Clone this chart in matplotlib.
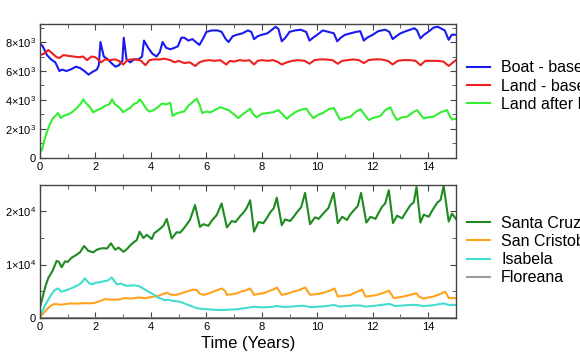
import numpy as np
import matplotlib
matplotlib.use("Agg")
import matplotlib.pyplot as plt
from matplotlib.ticker import MultipleLocator, FuncFormatter

plt.rcParams['font.family'] = ['Liberation Sans', 'DejaVu Sans']
plt.rcParams['mathtext.fontset'] = 'custom'
plt.rcParams['mathtext.rm'] = 'Liberation Sans'
plt.rcParams['mathtext.default'] = 'regular'

# ---- top panel: total population by strategy (x1000) ----
boat_t = [0.0, 0.1, 0.25, 0.4, 0.55, 0.7, 0.8, 0.95, 1.1, 1.3, 1.45, 1.6, 1.75, 1.9, 2.05, 2.12, 2.18, 2.3,
          2.45, 2.6, 2.72, 2.85, 2.97, 3.02, 3.12, 3.25, 3.4, 3.55, 3.68, 3.75, 3.9, 4.05, 4.2, 4.32, 4.42,
          4.55, 4.7, 4.85, 4.97, 5.1, 5.2, 5.35, 5.5, 5.62, 5.75, 5.9, 6.0, 6.2, 6.4, 6.55, 6.7, 6.8, 6.95,
          7.1, 7.3, 7.5, 7.62, 7.72, 7.85, 8.0, 8.2, 8.4, 8.5, 8.6, 8.72, 8.85, 9.0, 9.2, 9.4, 9.6, 9.72,
          9.85, 10.0, 10.2, 10.4, 10.6, 10.72, 10.85, 11.0, 11.2, 11.4, 11.55, 11.68, 11.8, 12.0, 12.2,
          12.45, 12.6, 12.72, 12.85, 13.0, 13.2, 13.5, 13.6, 13.72, 13.85, 14.0, 14.2, 14.35, 14.5, 14.6,
          14.74, 14.85, 15.0]
boat_v = [7.9, 7.7, 7.1, 6.8, 6.6, 6.0, 6.1, 6.0, 6.1, 6.3, 6.2, 6.0, 5.75, 5.95, 6.1, 6.4, 8.0, 7.0,
          6.8, 6.5, 6.3, 6.4, 6.7, 8.3, 6.8, 6.6, 6.8, 6.8, 7.0, 8.1, 7.6, 7.2, 7.0, 7.3, 8.0,
          7.6, 7.5, 7.6, 7.7, 8.3, 8.3, 8.1, 8.2, 8.0, 7.8, 8.3, 8.7, 8.8, 8.8, 8.7, 8.2, 8.0, 8.4,
          8.5, 8.6, 8.8, 8.7, 8.2, 8.4, 8.5, 8.6, 8.9, 9.05, 8.9, 8.05, 8.3, 8.7, 8.8, 8.85, 8.7, 8.1,
          8.3, 8.5, 8.8, 8.7, 8.6, 8.05, 8.3, 8.5, 8.6, 8.7, 8.75, 8.1, 8.3, 8.5, 8.75,
          8.85, 8.7, 8.2, 8.4, 8.6, 8.75, 8.95, 8.8, 8.25, 8.5, 8.7, 9.0, 9.05, 8.9, 8.8,
          8.15, 8.5, 8.5]

land_t = [0.0, 0.15, 0.3, 0.45, 0.6, 0.7, 0.85, 1.0, 1.2, 1.4, 1.55, 1.7, 1.85, 2.0, 2.2, 2.35, 2.5, 2.7,
          2.85, 3.0, 3.15, 3.3, 3.5, 3.65, 3.8, 3.95, 4.1, 4.3, 4.5, 4.7, 4.85, 5.0, 5.2, 5.4, 5.6, 5.75,
          5.9, 6.1, 6.3, 6.5, 6.72, 6.85, 7.0, 7.2, 7.4, 7.55, 7.72, 7.85, 8.0, 8.2, 8.4, 8.55, 8.72, 8.9,
          9.1, 9.3, 9.55, 9.72, 9.9, 10.1, 10.3, 10.55, 10.74, 10.9, 11.1, 11.3, 11.5, 11.68, 11.85, 12.05,
          12.3, 12.55, 12.72, 12.9, 13.1, 13.35, 13.55, 13.72, 13.9, 14.1, 14.35, 14.55, 14.74, 14.9, 15.0]
land_v = [7.1, 7.2, 7.45, 7.2, 6.95, 6.9, 7.1, 7.05, 7.0, 6.95, 7.0, 6.75, 7.0, 6.95, 6.6, 6.8, 6.75, 6.8,
          6.7, 6.45, 6.75, 6.8, 6.8, 6.7, 6.4, 6.75, 6.8, 6.8, 6.85, 6.75, 6.6, 6.7, 6.55, 6.6, 6.35, 6.6,
          6.7, 6.75, 6.7, 6.75, 6.45, 6.7, 6.65, 6.75, 6.7, 6.75, 6.45, 6.7, 6.75, 6.7, 6.75, 6.65, 6.45, 6.6,
          6.7, 6.75, 6.7, 6.5, 6.75, 6.8, 6.8, 6.75, 6.5, 6.7, 6.75, 6.8, 6.75, 6.55, 6.75, 6.8,
          6.8, 6.7, 6.45, 6.7, 6.75, 6.75, 6.7, 6.4, 6.7, 6.7, 6.7, 6.65, 6.35, 6.6, 6.75]

erad_t = [0.0, 0.08, 0.15, 0.25, 0.35, 0.45, 0.55, 0.65, 0.75, 0.85, 1.0, 1.15, 1.3, 1.45, 1.56, 1.65, 1.8,
          1.92, 2.05, 2.2, 2.35, 2.5, 2.6, 2.7, 2.85, 3.0, 3.1, 3.25, 3.4, 3.5, 3.6, 3.7, 3.85, 3.95, 4.1,
          4.25, 4.4, 4.55, 4.7, 4.78, 4.9, 5.05, 5.2, 5.35, 5.5, 5.65, 5.75, 5.85, 6.0, 6.15, 6.3, 6.5,
          6.65, 6.8, 7.0, 7.15, 7.3, 7.45, 7.58, 7.7, 7.82, 8.0, 8.2, 8.4, 8.6, 8.75, 8.9, 9.05, 9.25, 9.45,
          9.6, 9.75, 9.86, 10.0, 10.2, 10.4, 10.6, 10.72, 10.83, 11.0, 11.2, 11.4, 11.56, 11.7, 11.86, 12.0,
          12.28, 12.45, 12.64, 12.75, 12.88, 13.05, 13.24, 13.45, 13.6, 13.72, 13.84, 14.0, 14.2, 14.45,
          14.68, 14.78, 14.86, 15.0]
erad_v = [0.4, 0.6, 1.2, 1.8, 2.3, 2.7, 2.9, 3.1, 2.75, 2.9, 3.0, 3.15, 3.4, 3.7, 4.05, 3.8, 3.5,
          3.15, 3.3, 3.4, 3.6, 3.7, 4.05, 3.7, 3.5, 3.15, 3.3, 3.45, 3.75, 3.8, 4.05, 3.8, 3.35, 3.2, 3.3,
          3.5, 3.75, 3.7, 3.8, 2.9, 3.05, 3.15, 3.2, 3.6, 3.85, 4.1, 3.7, 3.1, 3.2, 3.15, 3.3, 3.5,
          3.4, 3.3, 3.0, 2.75, 3.0, 3.2, 3.4, 3.0, 2.8, 3.05, 3.1, 3.15, 3.3, 3.0, 2.7, 2.95, 3.2, 3.35,
          3.4, 3.0, 2.75, 2.95, 3.1, 3.35, 3.45, 3.0, 2.62, 2.75, 2.85, 3.2, 3.36, 3.0, 2.62, 2.75,
          2.9, 3.3, 3.5, 3.0, 2.62, 2.8, 2.85, 3.15, 3.3, 3.0, 2.73, 2.8, 2.85, 3.15,
          3.3, 2.9, 2.66, 2.7]

# ---- bottom panel: population per island (x1000) ----
cruz_t = [0.0, 0.1, 0.2, 0.3, 0.45, 0.6, 0.68, 0.78, 0.9, 1.0, 1.14, 1.3, 1.44, 1.59, 1.74, 1.92, 2.05, 2.17,
          2.3, 2.41, 2.56, 2.71, 2.83, 3.01, 3.15, 3.25, 3.4, 3.49, 3.59, 3.73, 3.85, 4.03, 4.12, 4.3, 4.45,
          4.57, 4.75, 4.93, 5.05, 5.2, 5.41, 5.59, 5.77, 5.89, 6.07, 6.2, 6.37, 6.55, 6.74, 6.92, 7.05, 7.2,
          7.34, 7.45, 7.58, 7.72, 7.88, 8.06, 8.2, 8.3, 8.43, 8.54, 8.72, 8.84, 9.02, 9.15, 9.26, 9.42, 9.56,
          9.74, 9.92, 10.05, 10.23, 10.4, 10.59, 10.74, 10.9, 11.07, 11.2, 11.37, 11.46, 11.58, 11.77, 11.92,
          12.1, 12.22, 12.34, 12.45, 12.58, 12.73, 12.88, 13.06, 13.2, 13.36, 13.48, 13.58, 13.72, 13.84,
          14.02, 14.15, 14.32, 14.45, 14.56, 14.74, 14.86, 15.0]
cruz_v = [2.0, 4.0, 6.0, 7.5, 8.8, 10.7, 10.5, 9.5, 10.6, 10.5, 11.3, 11.8, 12.3, 13.5, 12.6, 12.3, 12.8, 13.0,
          13.1, 13.0, 14.0, 12.8, 13.2, 12.4, 13.0, 13.6, 14.3, 14.6, 16.2, 15.0, 15.6, 14.8, 15.9, 16.6, 17.3,
          18.6, 14.9, 16.1, 16.0, 16.9, 18.4, 21.2, 17.1, 17.6, 17.3, 18.3, 19.3, 21.5, 17.0, 18.2, 18.0, 19.0,
          19.8, 20.6, 22.1, 16.2, 18.0, 17.8, 18.9, 19.8, 20.6, 22.6, 17.4, 18.5, 18.2, 19.0, 19.8, 20.8, 23.5,
          17.6, 18.9, 18.6, 19.7, 20.6, 23.5, 17.8, 19.0, 18.4, 19.5, 20.5, 21.0, 23.5, 17.9, 19.0,
          18.6, 19.8, 20.9, 21.5, 24.0, 17.8, 19.2, 18.7, 19.9, 21.2, 21.7, 24.6, 17.9, 19.4,
          19.0, 20.2, 21.6, 22.2, 24.8, 18.1, 19.6, 18.6]

cristobal_t = [0.0, 0.07, 0.18, 0.29, 0.4, 0.53, 0.65, 0.77, 0.95, 1.13, 1.35, 1.61, 1.8, 1.97, 2.15, 2.33,
               2.55, 2.82, 3.06, 3.3, 3.54, 3.8, 4.02, 4.26, 4.45, 4.56, 4.74, 4.92, 5.1, 5.29, 5.53, 5.65,
               5.77, 5.89, 6.05, 6.25, 6.4, 6.55, 6.68, 6.74, 6.9, 7.1, 7.3, 7.45, 7.58, 7.72, 7.9, 8.06,
               8.3, 8.45, 8.54, 8.72, 8.9, 9.14, 9.35, 9.56, 9.74, 9.9, 10.05, 10.23, 10.45, 10.62, 10.74,
               10.9, 11.19, 11.4, 11.62, 11.74, 11.95, 12.16, 12.4, 12.58, 12.76, 12.9, 13.12, 13.35, 13.58,
               13.66, 13.84, 14.0, 14.2, 14.4, 14.62, 14.74, 15.0]
cristobal_v = [0.2, 0.5, 1.2, 1.8, 2.3, 2.6, 2.5, 2.45, 2.6, 2.7, 2.65, 2.75, 2.7, 2.8, 3.1, 3.5,
               3.4, 3.4, 3.7, 3.6, 3.8, 3.7, 3.9, 4.1, 4.5, 4.7, 4.3, 4.3, 4.6, 4.9, 5.3, 5.2,
               4.5, 4.3, 4.5, 4.9, 5.2, 5.5, 5.0, 4.3, 4.4, 4.6, 5.0, 5.2, 5.5, 4.3, 4.5, 4.6,
               5.1, 5.4, 5.7, 4.3, 4.5, 4.9, 5.2, 5.7, 4.3, 4.4, 4.5, 4.7, 5.1, 5.5, 4.0,
               4.1, 4.3, 4.8, 5.3, 4.0, 4.1, 4.3, 4.7, 5.1, 3.7, 3.8, 4.0, 4.3, 4.6,
               4.0, 3.6, 3.8, 4.0, 4.4, 4.9, 3.7, 3.7]

isabela_t = [0.0, 0.07, 0.18, 0.29, 0.4, 0.53, 0.65, 0.77, 0.9, 1.01, 1.2, 1.37, 1.5, 1.61, 1.79, 1.9, 2.03,
             2.18, 2.33, 2.45, 2.58, 2.7, 2.76, 2.94, 3.05, 3.18, 3.35, 3.54, 3.66, 3.78, 3.9, 4.02, 4.15,
             4.26, 4.4, 4.5, 4.62, 4.74, 4.9, 5.05, 5.2, 5.35, 5.5, 5.65, 5.8, 6.0, 6.25, 6.5, 6.8, 7.1,
             7.4, 7.7, 8.0, 8.3, 8.54, 8.8, 9.1, 9.3, 9.5, 9.75, 10.1, 10.35, 10.6, 10.8, 11.1, 11.35,
             11.55, 11.75, 12.0, 12.3, 12.6, 12.8, 13.1, 13.35, 13.6, 13.8, 14.1, 14.35, 14.56, 14.75, 15.0]
isabela_v = [0.5, 1.1, 2.3, 3.3, 4.3, 5.2, 5.5, 4.9, 5.1, 5.3, 5.7, 6.1, 6.6, 7.4, 6.4, 6.3, 6.6,
             6.7, 6.9, 7.0, 7.6, 6.8, 6.3, 6.4, 6.1, 6.0, 6.1, 6.0, 5.7, 5.3, 4.9, 4.6, 4.2,
             3.8, 3.5, 3.3, 3.4, 3.2, 3.1, 3.0, 2.7, 2.4, 2.1, 1.8, 1.7, 1.6, 1.5, 1.45, 1.5, 1.6,
             1.8, 2.05, 1.95, 2.0, 2.2, 2.0, 2.1, 2.2, 2.25, 2.0, 2.1, 2.2, 2.4, 2.1, 2.2, 2.3,
             2.3, 2.1, 2.2, 2.4, 2.6, 2.2, 2.3, 2.4, 2.4, 2.2, 2.3, 2.5, 2.7, 2.4, 2.4]

floreana_t = [0.0, 15.0]
floreana_v = [0.0, 0.0]

top_series = [
    (boat_t, boat_v, "#1a1aee", "Boat - based"),
    (land_t, land_v, "#ee2020", "Land - based"),
    (erad_t, erad_v, "#33ee33", "Land after Eradication"),
]
bottom_series = [
    (cruz_t, cruz_v, "#1f8a1f", "Santa Cruz"),
    (cristobal_t, cristobal_v, "#ffa31f", "San Cristobal"),
    (isabela_t, isabela_v, "#45dcd0", "Isabela"),
    (floreana_t, floreana_v, "#a09a9a", "Floreana"),
]


def sci_label(exp):
    def fmt(v, pos):
        if v == 0:
            return "0"
        return "%d\u00d710$^{%d}$" % (round(v / 10 ** exp), exp)
    return fmt


def style_axis(ax, ymax, major, minor, exp):
    ax.set_xlim(0, 15)
    ax.set_ylim(0, ymax)
    ax.xaxis.set_major_locator(MultipleLocator(2))
    ax.xaxis.set_minor_locator(MultipleLocator(1))
    ax.yaxis.set_major_locator(MultipleLocator(major))
    ax.yaxis.set_minor_locator(MultipleLocator(minor))
    ax.yaxis.set_major_formatter(FuncFormatter(sci_label(exp)))
    ax.tick_params(which='both', direction='in', top=True, right=True, labelsize=8,
                   color='#444444', pad=3)
    ax.tick_params(which='major', length=4)
    ax.tick_params(which='minor', length=3)
    for sp in ax.spines.values():
        sp.set_color('#444444')
        sp.set_linewidth(1.0)


fig = plt.figure(figsize=(5.8, 3.59), dpi=100)
ax1 = fig.add_axes([0.069, 0.56, 0.717, 0.373])
ax2 = fig.add_axes([0.069, 0.115, 0.717, 0.370])

for t, v, c, lab in top_series:
    ax1.plot(t, np.array(v) * 1000, color=c, lw=1.5, label=lab)
for t, v, c, lab in bottom_series:
    ax2.plot(t, np.array(v) * 1000, color=c, lw=1.5, label=lab)

style_axis(ax1, 9240, 2000, 1000, 3)
style_axis(ax2, 25000, 10000, 5000, 4)
ax2.set_xlabel("Time (Years)", fontsize=12, labelpad=3)

leg_kw = dict(loc='center left', frameon=False, fontsize=11.5, borderpad=0, borderaxespad=0,
              handlelength=1.45, handletextpad=0.7, labelspacing=0.2)
fig.legend(*ax1.get_legend_handles_labels(), bbox_to_anchor=(0.805, 0.76), **leg_kw)
fig.legend(*ax2.get_legend_handles_labels(), bbox_to_anchor=(0.805, 0.302), **leg_kw)

fig.savefig("out.png", dpi=100)
